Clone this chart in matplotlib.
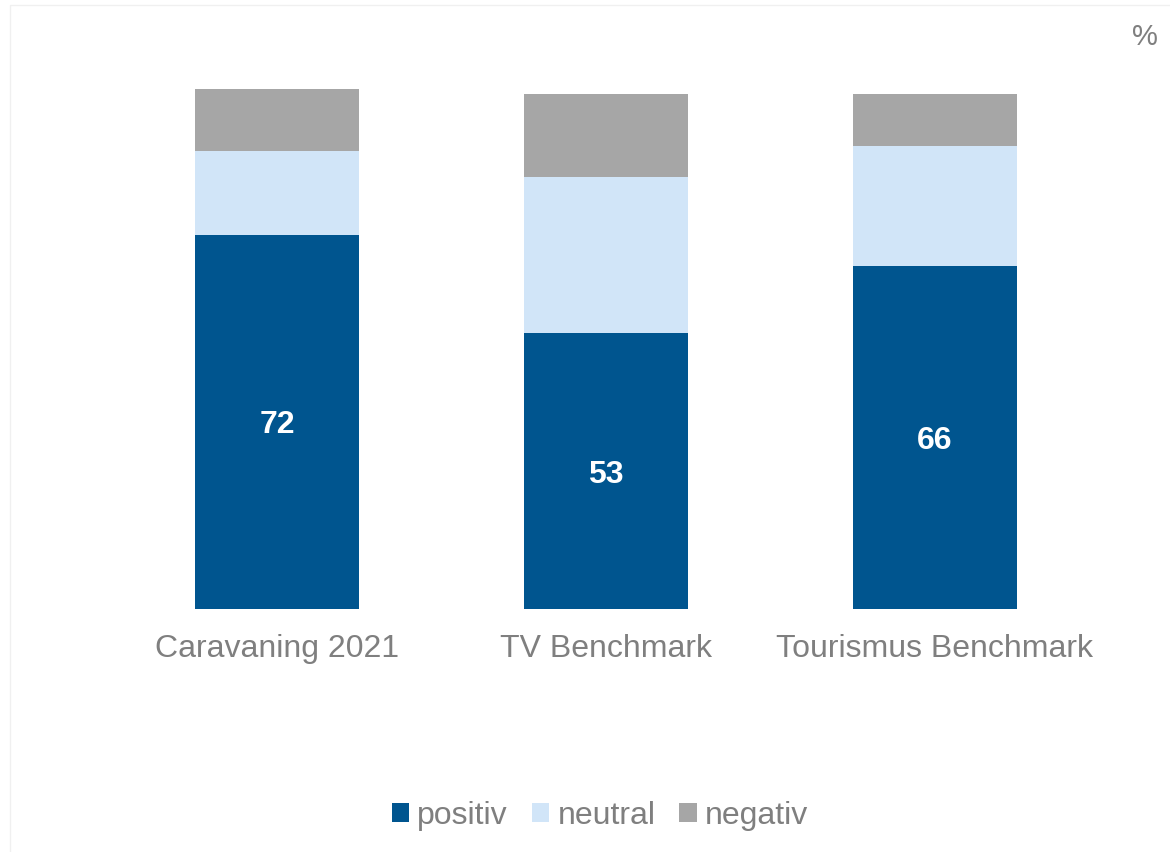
import numpy as np
import matplotlib
matplotlib.use('Agg')
import matplotlib.pyplot as plt
from matplotlib.patches import Patch, Rectangle

plt.rcParams['font.family'] = ['Liberation Sans', 'DejaVu Sans']

categories = ['Caravaning 2021', 'TV Benchmark', 'Tourismus Benchmark']
positiv = [72, 53, 66]
neutral = [16, 30, 23]
negativ = [12, 16, 10]
series_names = ['positiv', 'neutral', 'negativ']

color_pos = '#00558f'
color_neu = '#d1e5f8'
color_neg = '#a6a6a6'
color_text = '#7f7f7f'

W, H = 1170, 852
fig = plt.figure(figsize=(W / 100, H / 100), dpi=100)
fig.patch.set_facecolor('white')

# faint outer frame
fig.patches.append(Rectangle((10 / W, -0.01), 1.02 - 10 / W, 1 - 5 / H + 0.01,
                             transform=fig.transFigure, fill=False,
                             edgecolor='#f0f0f0', linewidth=1.0))

ax = fig.add_axes([112.5 / W, (H - 609) / H, 987 / W, 520 / H])
x = np.arange(len(categories))
pos = np.array(positiv)
neu = np.array(neutral)
neg = np.array(negativ)

ax.bar(x, pos, width=0.5, color=color_pos)
ax.bar(x, neu, width=0.5, bottom=pos, color=color_neu)
ax.bar(x, neg, width=0.5, bottom=pos + neu, color=color_neg)

for xi, v in zip(x, positiv):
    ax.text(xi, v / 2, str(v), ha='center', va='center_baseline', color='white',
            fontsize=23, fontweight='bold')

ax.set_xlim(-0.5, 2.5)
ax.set_ylim(0, 100)
ax.axis('off')

for xi, cat in zip(x, categories):
    ax.text(xi, -48 / 520, cat, ha='center', va='baseline', color=color_text,
            fontsize=23, transform=ax.get_xaxis_transform())

fig.text(1158 / W, 1 - 37 / H, '%', ha='right', va='center', color=color_text,
         fontsize=21)

handles = [Patch(facecolor=c, edgecolor='none') for c in (color_pos, color_neu, color_neg)]
leg = fig.legend(handles, series_names, loc='center', ncol=3,
                 bbox_to_anchor=(600 / W, 1 - 816 / H), frameon=False,
                 fontsize=23, handlelength=0.55, handleheight=0.55,
                 handletextpad=0.25, columnspacing=0.75, borderaxespad=0)
for t in leg.get_texts():
    t.set_color(color_text)

fig.savefig('out.png', dpi=100)
